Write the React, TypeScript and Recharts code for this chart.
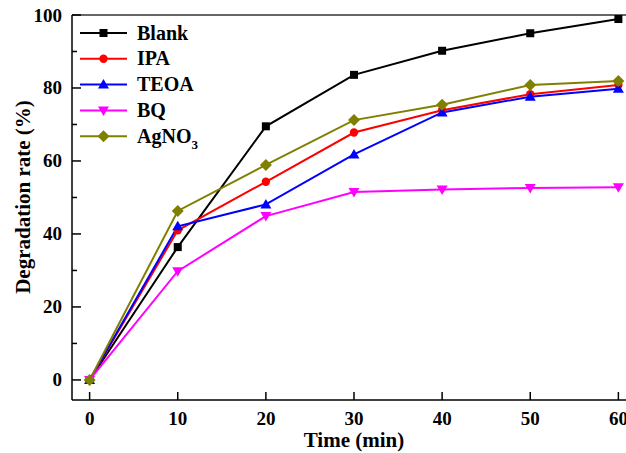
import { LineChart, Line, XAxis, YAxis, ReferenceLine, Label } from "recharts";

const times = [0, 10, 20, 30, 40, 50, 60];
const blank = [0, 36.4, 69.5, 83.6, 90.2, 95.0, 98.9];
const ipa = [0, 41.0, 54.3, 67.8, 73.9, 78.3, 80.8];
const teoa = [0, 42.1, 48.1, 61.8, 73.3, 77.6, 79.8];
const bq = [0, 29.8, 44.9, 51.5, 52.2, 52.6, 52.8];
const agno3 = [0, 46.3, 58.9, 71.2, 75.4, 80.8, 81.9];

const xTicks = [0, 10, 20, 30, 40, 50, 60];
const yTicks = [0, 10, 20, 30, 40, 50, 60, 70, 80, 90, 100];

const data = times.map((t, i) => ({
  time: t,
  blank: blank[i],
  ipa: ipa[i],
  teoa: teoa[i],
  bq: bq[i],
  agno3: agno3[i],
}));

const FONT = "'Liberation Serif', 'Times New Roman', serif";

type Shape = "square" | "circle" | "triangle" | "down" | "diamond";

function Marker({ cx, cy, shape, color }: { cx: number; cy: number; shape: Shape; color: string }) {
  if (cx == null || cy == null) return null;
  switch (shape) {
    case "square":
      return <rect x={cx - 4} y={cy - 4} width={8} height={8} fill={color} />;
    case "circle":
      return <circle cx={cx} cy={cy} r={4.2} fill={color} />;
    case "triangle":
      return <path d={`M${cx},${cy - 5.5} L${cx + 5.5},${cy + 4} L${cx - 5.5},${cy + 4} Z`} fill={color} />;
    case "down":
      return <path d={`M${cx},${cy + 5.5} L${cx + 5.5},${cy - 4} L${cx - 5.5},${cy - 4} Z`} fill={color} />;
    case "diamond":
      return <path d={`M${cx},${cy - 6} L${cx + 6},${cy} L${cx},${cy + 6} L${cx - 6},${cy} Z`} fill={color} />;
  }
}

const series: { key: string; name: string; color: string; shape: Shape }[] = [
  { key: "blank", name: "Blank", color: "#000000", shape: "square" },
  { key: "ipa", name: "IPA", color: "#ff0000", shape: "circle" },
  { key: "teoa", name: "TEOA", color: "#0000ff", shape: "triangle" },
  { key: "bq", name: "BQ", color: "#ff00ff", shape: "down" },
  { key: "agno3", name: "AgNO3", color: "#808000", shape: "diamond" },
];

const YTick = (props: any) => {
  const { x, y, payload } = props;
  const major = payload.value % 20 === 0;
  return (
    <g>
      <line x1={x + 10} x2={x + 10 + (major ? 9 : 5)} y1={y} y2={y} stroke="#000" strokeWidth={1.5} />
      {major && (
        <text x={x} y={y + 6.5} textAnchor="end" fontFamily={FONT} fontWeight="bold" fontSize={19} fill="#000">
          {payload.value}
        </text>
      )}
    </g>
  );
};

const XTick = (props: any) => {
  const { x, y, payload } = props;
  return (
    <g>
      <line x1={x} x2={x} y1={y - 10} y2={y - 18} stroke="#000" strokeWidth={1.5} />
      <text x={x} y={y + 15} textAnchor="middle" fontFamily={FONT} fontWeight="bold" fontSize={19} fill="#000">
        {payload.value}
      </text>
    </g>
  );
};

// legend drawn as an overlay so it does not push the plot around
function LegendBox() {
  return (
    <svg
      width={200}
      height={140}
      style={{ position: "absolute", left: 80, top: 20, overflow: "visible", pointerEvents: "none" }}
    >
      {series.map((s, i) => {
        const cy = 13 + i * 25.8;
        return (
          <g key={s.key}>
            <line x1={0} x2={47} y1={cy} y2={cy} stroke={s.color} strokeWidth={2} />
            <Marker cx={23.5} cy={cy} shape={s.shape} color={s.color} />
            <text x={57} y={cy + 6.5} fontFamily={FONT} fontWeight="bold" fontSize={20} fill="#000">
              {s.key === "agno3" ? (
                <>
                  AgNO
                  <tspan fontSize={13} dy={6}>3</tspan>
                </>
              ) : (
                s.name
              )}
            </text>
          </g>
        );
      })}
    </svg>
  );
}

export default function App() {
  // fixed box covering the whole window; the plot runs past the right edge like the original
  return (
    <div
      style={{
        position: "fixed",
        left: 0,
        top: 0,
        width: 626,
        height: 453,
        overflow: "hidden",
        background: "#fff",
      }}
    >
      <LineChart width={636} height={453} data={data} margin={{ top: 15, right: 0, bottom: 0, left: 0 }}>
        <XAxis
          dataKey="time"
          type="number"
          domain={[-2, 62]}
          ticks={xTicks}
          interval={0}
          allowDataOverflow
          height={53}
          tickSize={0}
          tickMargin={10}
          tickLine={false}
          tick={<XTick />}
          axisLine={{ stroke: "#000", strokeWidth: 1.5 }}
        >
          <Label
            content={({ viewBox }: any) => (
              <text
                x={viewBox.x + viewBox.width / 2}
                y={viewBox.y + 47}
                textAnchor="middle"
                fontFamily={FONT}
                fontWeight="bold"
                fontSize={21}
                fill="#000"
              >
                Time (min)
              </text>
            )}
          />
        </XAxis>
        <YAxis
          type="number"
          domain={[-5.5, 100]}
          ticks={yTicks}
          interval={0}
          allowDataOverflow
          width={72}
          tickSize={0}
          tickMargin={10}
          tickLine={false}
          tick={<YTick />}
          axisLine={{ stroke: "#000", strokeWidth: 1.5 }}
        >
          <Label
            content={() => (
              <text
                x={30}
                y={197}
                transform="rotate(-90, 30, 197)"
                textAnchor="middle"
                fontFamily={FONT}
                fontWeight="bold"
                fontSize={21}
                fill="#000"
              >
                Degradation rate (%)
              </text>
            )}
          />
        </YAxis>
        <ReferenceLine y={100} stroke="#333" strokeWidth={1.5} />
        {series.map((s) => (
          <Line
            key={s.key}
            dataKey={s.key}
            name={s.name}
            stroke={s.color}
            strokeWidth={2}
            isAnimationActive={false}
            dot={(p: any) => <Marker key={`${s.key}-${p.index}`} cx={p.cx} cy={p.cy} shape={s.shape} color={s.color} />}
            activeDot={false}
          />
        ))}
      </LineChart>
      <LegendBox />
    </div>
  );
}
